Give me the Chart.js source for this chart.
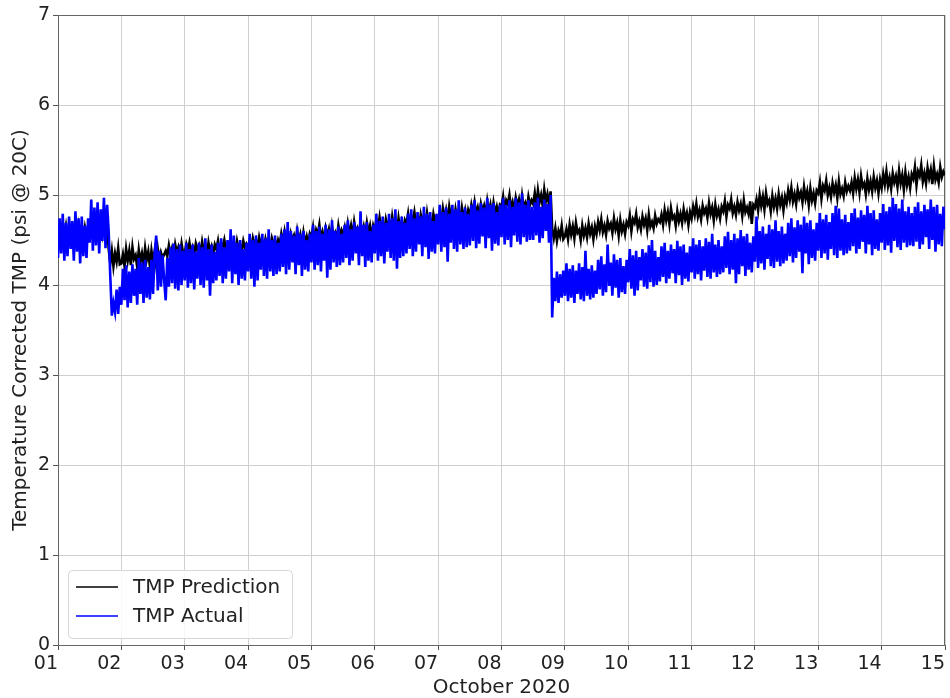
<!DOCTYPE html>
<html>
<head>
<meta charset="utf-8">
<script src="https://cdn.jsdelivr.net/npm/chart.js@4"></script>
<style>
    html, body { margin: 0; padding: 0; background: #fff; overflow: hidden; }
    #wrap { width: 948px; height: 698px; }
</style>
</head>
<body>
<div id="wrap"><canvas id="tmpChart" width="948" height="698"></canvas></div>
<script>
// samples every 0.025 day (36 min) starting Oct 1 00:00, one row = half a day
const startDay = 1;
const stepDays = 0.025;
const dayTicks = ['01', '02', '03', '04', '05', '06', '07', '08', '09', '10', '11', '12', '13', '14', '15'];
const seriesNames = ['TMP Prediction', 'TMP Actual'];

const tmpPrediction = [
    4.53, 4.64, 4.48, 4.61, 4.56, 4.66, 4.52, 4.59, 4.50, 4.63, 4.54, 4.62, 4.49, 4.65, 4.53, 4.58, 4.51, 4.64, 4.55, 4.61,
    4.60, 4.70, 4.57, 4.68, 4.62, 4.72, 4.58, 4.66, 4.56, 4.71, 4.61, 4.67, 4.40, 4.24, 4.38, 4.21, 4.35, 4.26, 4.41, 4.23,
    4.24, 4.34, 4.21, 4.40, 4.27, 4.38, 4.22, 4.42, 4.29, 4.33, 4.20, 4.39, 4.26, 4.35, 4.23, 4.41, 4.28, 4.37, 4.21, 4.38,
    4.25, 4.37, 4.22, 4.40, 4.27, 4.36, 4.30, 4.34, 4.38, 4.32, 4.44, 4.34, 4.41, 4.31, 4.45, 4.36, 4.42, 4.33, 4.46, 4.35,
    4.35, 4.45, 4.38, 4.47, 4.36, 4.42, 4.34, 4.46, 4.39, 4.44, 4.35, 4.48, 4.38, 4.44, 4.33, 4.47, 4.37, 4.43, 4.35, 4.45,
    4.40, 4.49, 4.36, 4.46, 4.42, 4.50, 4.39, 4.44, 4.37, 4.48, 4.41, 4.47, 4.37, 4.49, 4.40, 4.44, 4.38, 4.49, 4.42, 4.46,
    4.43, 4.48, 4.41, 4.52, 4.44, 4.50, 4.41, 4.53, 4.45, 4.48, 4.40, 4.51, 4.43, 4.49, 4.42, 4.52, 4.45, 4.50, 4.41, 4.50,
    4.45, 4.57, 4.48, 4.59, 4.46, 4.53, 4.44, 4.57, 4.50, 4.55, 4.46, 4.60, 4.49, 4.56, 4.43, 4.58, 4.47, 4.54, 4.45, 4.57,
    4.53, 4.64, 4.48, 4.61, 4.56, 4.67, 4.52, 4.59, 4.50, 4.63, 4.55, 4.62, 4.49, 4.65, 4.53, 4.58, 4.51, 4.66, 4.55, 4.61,
    4.56, 4.64, 4.53, 4.68, 4.57, 4.66, 4.54, 4.70, 4.59, 4.63, 4.52, 4.67, 4.57, 4.65, 4.55, 4.69, 4.58, 4.66, 4.53, 4.66,
    4.60, 4.72, 4.63, 4.75, 4.62, 4.69, 4.59, 4.73, 4.65, 4.71, 4.61, 4.76, 4.64, 4.72, 4.58, 4.74, 4.62, 4.70, 4.60, 4.72,
    4.68, 4.79, 4.63, 4.76, 4.71, 4.81, 4.67, 4.74, 4.65, 4.78, 4.69, 4.77, 4.64, 4.80, 4.68, 4.73, 4.66, 4.79, 4.70, 4.76,
    4.73, 4.81, 4.70, 4.85, 4.74, 4.83, 4.71, 4.87, 4.76, 4.80, 4.69, 4.84, 4.74, 4.82, 4.72, 4.86, 4.75, 4.83, 4.70, 4.83,
    4.77, 4.89, 4.80, 4.92, 4.79, 4.86, 4.76, 4.90, 4.82, 4.88, 4.78, 4.93, 4.81, 4.89, 4.75, 4.91, 4.80, 4.87, 4.77, 4.89,
    4.87, 4.98, 4.81, 4.94, 4.90, 5.00, 4.85, 4.92, 4.83, 4.97, 4.88, 4.95, 4.82, 4.99, 4.86, 4.91, 4.84, 4.98, 4.89, 4.94,
    4.90, 5.02, 4.87, 5.05, 4.92, 5.00, 4.88, 5.06, 4.93, 5.01, 4.89, 5.04, 4.62, 4.52, 4.63, 4.49, 4.60, 4.54, 4.66, 4.51,
    4.54, 4.62, 4.51, 4.67, 4.56, 4.65, 4.52, 4.69, 4.58, 4.61, 4.50, 4.66, 4.55, 4.63, 4.53, 4.68, 4.57, 4.64, 4.51, 4.65,
    4.57, 4.70, 4.61, 4.73, 4.59, 4.66, 4.56, 4.71, 4.63, 4.68, 4.58, 4.74, 4.62, 4.69, 4.55, 4.72, 4.60, 4.67, 4.57, 4.70,
    4.66, 4.77, 4.60, 4.73, 4.69, 4.79, 4.64, 4.71, 4.62, 4.76, 4.67, 4.74, 4.61, 4.78, 4.65, 4.70, 4.63, 4.77, 4.68, 4.73,
    4.70, 4.78, 4.67, 4.83, 4.72, 4.81, 4.68, 4.85, 4.74, 4.77, 4.66, 4.82, 4.71, 4.79, 4.69, 4.84, 4.73, 4.80, 4.67, 4.81,
    4.74, 4.87, 4.78, 4.90, 4.76, 4.83, 4.73, 4.88, 4.80, 4.85, 4.75, 4.91, 4.79, 4.86, 4.72, 4.89, 4.77, 4.84, 4.74, 4.87,
    4.82, 4.93, 4.76, 4.89, 4.85, 4.95, 4.80, 4.87, 4.78, 4.92, 4.83, 4.90, 4.77, 4.94, 4.81, 4.86, 4.79, 4.93, 4.68, 4.89,
    4.86, 4.95, 4.83, 5.00, 4.88, 4.98, 4.84, 5.02, 4.90, 4.94, 4.82, 4.99, 4.87, 4.96, 4.85, 5.01, 4.89, 4.97, 4.83, 4.98,
    4.91, 5.05, 4.95, 5.08, 4.93, 5.01, 4.90, 5.06, 4.97, 5.03, 4.92, 5.09, 4.96, 5.04, 4.89, 5.07, 4.94, 5.02, 4.91, 5.05,
    5.02, 5.14, 4.96, 5.10, 5.05, 5.16, 5.00, 5.08, 4.98, 5.13, 5.03, 5.11, 4.97, 5.15, 5.01, 5.07, 4.99, 5.14, 5.04, 5.10,
    5.05, 5.14, 5.02, 5.19, 5.07, 5.17, 5.03, 5.21, 5.09, 5.13, 5.01, 5.18, 5.06, 5.15, 5.04, 5.20, 5.08, 5.16, 5.02, 5.17,
    5.08, 5.23, 5.12, 5.26, 5.10, 5.19, 5.07, 5.24, 5.14, 5.21, 5.09, 5.27, 5.13, 5.22, 5.06, 5.25, 5.11, 5.20, 5.08, 5.23,
    5.18, 5.31, 5.11, 5.26, 5.21, 5.33, 5.15, 5.24, 5.13, 5.30, 5.19, 5.28, 5.12, 5.32, 5.17, 5.23, 5.14, 5.31, 5.20, 5.26,
    5.22
];

const tmpActual = [
    4.30, 4.74, 4.35, 4.79, 4.27, 4.69, 4.32, 4.76, 4.40, 4.71, 4.27, 4.82, 4.37, 4.74, 4.24, 4.76, 4.32, 4.66, 4.30, 4.74,
    4.47, 4.95, 4.38, 4.86, 4.44, 4.92, 4.35, 4.84, 4.49, 4.97, 4.41, 4.89, 4.60, 4.10, 3.66, 3.80, 3.70, 3.95, 3.68, 3.98,
    3.78, 4.18, 3.83, 4.22, 3.75, 4.15, 3.80, 4.23, 3.88, 4.18, 3.78, 4.30, 3.90, 4.25, 3.80, 4.28, 3.86, 4.20, 3.84, 4.28,
    3.90, 4.34, 4.55, 3.94, 4.38, 3.98, 4.33, 4.06, 3.83, 4.30, 3.98, 4.42, 4.02, 4.46, 3.96, 4.40, 3.94, 4.45, 4.00, 4.38,
    4.05, 4.47, 3.97, 4.40, 4.02, 4.45, 3.95, 4.37, 4.07, 4.47, 4.00, 4.42, 3.97, 4.52, 4.05, 4.40, 3.88, 4.45, 4.02, 4.37,
    4.05, 4.47, 4.10, 4.52, 4.02, 4.42, 4.07, 4.50, 4.15, 4.62, 4.02, 4.55, 4.12, 4.47, 4.00, 4.50, 4.07, 4.40, 4.05, 4.47,
    4.15, 4.57, 4.07, 4.50, 3.98, 4.55, 4.05, 4.47, 4.17, 4.57, 4.10, 4.52, 4.07, 4.62, 4.15, 4.50, 4.10, 4.55, 4.12, 4.47,
    4.15, 4.57, 4.20, 4.62, 4.12, 4.70, 4.17, 4.60, 4.25, 4.55, 4.12, 4.65, 4.22, 4.57, 4.10, 4.60, 4.17, 4.50, 4.15, 4.57,
    4.25, 4.67, 4.17, 4.60, 4.22, 4.65, 4.15, 4.57, 4.27, 4.67, 4.08, 4.62, 4.17, 4.72, 4.25, 4.60, 4.20, 4.65, 4.22, 4.57,
    4.25, 4.67, 4.30, 4.72, 4.22, 4.62, 4.27, 4.70, 4.35, 4.65, 4.22, 4.82, 4.32, 4.67, 4.20, 4.70, 4.27, 4.60, 4.25, 4.67,
    4.35, 4.79, 4.27, 4.71, 4.32, 4.76, 4.24, 4.69, 4.37, 4.79, 4.30, 4.74, 4.27, 4.84, 4.18, 4.71, 4.30, 4.76, 4.32, 4.69,
    4.35, 4.79, 4.40, 4.84, 4.32, 4.74, 4.37, 4.81, 4.45, 4.76, 4.32, 4.87, 4.42, 4.79, 4.29, 4.81, 4.37, 4.71, 4.35, 4.79,
    4.45, 4.89, 4.37, 4.81, 4.42, 4.86, 4.26, 4.79, 4.47, 4.89, 4.40, 4.84, 4.37, 4.94, 4.45, 4.81, 4.40, 4.86, 4.42, 4.79,
    4.44, 4.89, 4.49, 4.94, 4.41, 4.83, 4.46, 4.91, 4.54, 4.86, 4.41, 4.97, 4.52, 4.89, 4.38, 4.91, 4.46, 4.81, 4.44, 4.89,
    4.53, 4.97, 4.45, 4.89, 4.50, 4.94, 4.42, 4.87, 4.55, 4.97, 4.48, 4.92, 4.45, 5.02, 4.53, 4.89, 4.48, 4.94, 4.50, 4.87,
    4.50, 4.92, 4.55, 4.97, 4.47, 4.87, 4.52, 4.95, 4.60, 4.90, 4.47, 5.00, 3.64, 4.08, 3.82, 4.15, 3.80, 4.12, 3.86, 4.16,
    3.88, 4.24, 3.82, 4.18, 3.86, 4.22, 3.80, 4.16, 3.90, 4.24, 3.84, 4.20, 3.82, 4.38, 3.88, 4.18, 3.84, 4.22, 3.86, 4.16,
    3.90, 4.28, 3.95, 4.32, 3.88, 4.23, 3.92, 4.45, 3.99, 4.25, 3.88, 4.34, 3.97, 4.28, 3.86, 4.30, 3.92, 4.21, 3.90, 4.28,
    4.03, 4.40, 3.96, 4.33, 3.88, 4.38, 3.94, 4.31, 4.05, 4.40, 3.98, 4.36, 3.96, 4.44, 4.03, 4.50, 3.98, 4.38, 4.00, 4.31,
    4.04, 4.43, 4.09, 4.47, 4.02, 4.38, 4.07, 4.45, 4.13, 4.40, 4.02, 4.49, 4.11, 4.43, 4.00, 4.45, 4.07, 4.36, 4.04, 4.43,
    4.14, 4.52, 4.07, 4.45, 4.12, 4.50, 4.05, 4.43, 4.16, 4.52, 4.09, 4.48, 4.07, 4.57, 4.14, 4.45, 4.09, 4.50, 4.12, 4.43,
    4.14, 4.54, 4.19, 4.59, 4.12, 4.50, 4.17, 4.57, 4.02, 4.52, 4.12, 4.61, 4.21, 4.54, 4.10, 4.57, 4.17, 4.47, 4.14, 4.54,
    4.26, 4.76, 4.19, 4.60, 4.24, 4.65, 4.17, 4.57, 4.29, 4.67, 4.21, 4.62, 4.19, 4.72, 4.26, 4.60, 4.21, 4.65, 4.24, 4.57,
    4.27, 4.69, 4.32, 4.74, 4.25, 4.64, 4.30, 4.72, 4.37, 4.67, 4.13, 4.76, 4.35, 4.69, 4.23, 4.72, 4.30, 4.62, 4.27, 4.69,
    4.38, 4.80, 4.30, 4.73, 4.35, 4.78, 4.28, 4.70, 4.40, 4.80, 4.33, 4.88, 4.30, 4.85, 4.38, 4.73, 4.33, 4.78, 4.35, 4.70,
    4.38, 4.80, 4.43, 4.85, 4.35, 4.75, 4.40, 4.83, 4.48, 4.78, 4.35, 4.88, 4.45, 4.80, 4.33, 4.83, 4.40, 4.73, 4.38, 4.80,
    4.47, 4.90, 4.39, 4.82, 4.44, 4.87, 4.36, 4.97, 4.49, 4.90, 4.42, 4.85, 4.39, 4.95, 4.47, 4.82, 4.42, 4.87, 4.44, 4.80,
    4.43, 4.87, 4.48, 4.92, 4.40, 4.82, 4.45, 4.89, 4.53, 4.84, 4.40, 4.95, 4.50, 4.87, 4.37, 4.89, 4.45, 4.79, 4.43, 4.87,
    4.62
];

const seriesColors = ['#000000', '#0000ff'];
const fontFamily = '"DejaVu Sans", sans-serif';

function toPoints(values) {
    return values.map((v, i) => ({ x: startDay + i * stepDays, y: v }));
}

// matplotlib-like frame: top and right spines
const framePlugin = {
    id: 'frame',
    beforeDatasetsDraw(chart) {
        const { ctx, chartArea: a } = chart;
        ctx.save();
        ctx.strokeStyle = '#666';
        ctx.lineWidth = 1;
        ctx.beginPath();
        ctx.moveTo(a.left, a.top + 0.5);
        ctx.lineTo(a.right, a.top + 0.5);
        ctx.moveTo(a.right - 0.5, a.top);
        ctx.lineTo(a.right - 0.5, a.bottom);
        ctx.stroke();
        ctx.restore();
    }
};

// legend box in the lower left corner of the plot
const boxLegend = {
    id: 'boxLegend',
    afterDraw(chart) {
        const { ctx, chartArea: a } = chart;
        const x = a.left + 10, y = a.bottom - 75, w = 224, h = 68;
        ctx.save();
        ctx.fillStyle = 'rgba(255,255,255,0.85)';
        ctx.strokeStyle = '#d6d6d6';
        ctx.lineWidth = 1;
        ctx.beginPath();
        ctx.roundRect(x + 0.5, y + 0.5, w, h, 4);
        ctx.fill();
        ctx.stroke();
        ctx.font = '20px ' + fontFamily;
        ctx.textBaseline = 'middle';
        seriesNames.forEach((name, i) => {
            const ly = y + 17 + i * 29;
            ctx.strokeStyle = seriesColors[i];
            ctx.lineWidth = 1.6;
            ctx.beginPath();
            ctx.moveTo(x + 8, ly);
            ctx.lineTo(x + 50, ly);
            ctx.stroke();
            ctx.fillStyle = '#222';
            ctx.fillText(name, x + 65, ly + 1);
        });
        ctx.restore();
    }
};

const ctx = document.getElementById('tmpChart').getContext('2d');
new Chart(ctx, {
    type: 'line',
    data: {
        datasets: [
            {
                label: seriesNames[0],
                data: toPoints(tmpPrediction),
                borderColor: seriesColors[0],
                borderWidth: 2.6,
                pointRadius: 0,
                tension: 0,
                order: 1
            },
            {
                label: seriesNames[1],
                data: toPoints(tmpActual),
                borderColor: seriesColors[1],
                borderWidth: 2.6,
                pointRadius: 0,
                tension: 0,
                order: 0
            }
        ]
    },
    options: {
        responsive: false,
        animation: false,
        layout: { padding: { top: 15, left: 0, right: 0, bottom: 0 } },
        plugins: {
            legend: { display: false },
            tooltip: { enabled: false }
        },
        scales: {
            x: {
                type: 'linear',
                min: 1,
                max: 15,
                afterFit: scale => { scale.height = 53; },
                ticks: {
                    stepSize: 1,
                    padding: 3,
                    align: 'end',
                    color: '#222',
                    font: { family: fontFamily, size: 19 },
                    maxRotation: 0,
                    callback: v => dayTicks[v - 1]
                },
                grid: { color: '#cfcfcf', tickColor: '#555', tickLength: 5 },
                border: { color: '#666' },
                title: {
                    display: true,
                    text: 'October 2020',
                    color: '#222',
                    font: { family: fontFamily, size: 20, lineHeight: 1 },
                    padding: { top: 0, bottom: 0 }
                }
            },
            y: {
                min: 0,
                max: 7,
                afterFit: scale => { scale.width = 58; },
                ticks: {
                    stepSize: 1,
                    padding: 3,
                    color: '#222',
                    font: { family: fontFamily, size: 19 }
                },
                grid: { color: '#cfcfcf', tickColor: '#555', tickLength: 5 },
                border: { color: '#666' },
                title: {
                    display: true,
                    text: 'Temperature Corrected TMP (psi @ 20C)',
                    color: '#222',
                    font: { family: fontFamily, size: 20 },
                    padding: { top: 9, bottom: 0 }
                }
            }
        }
    },
    plugins: [framePlugin, boxLegend]
});
</script>
</body>
</html>
